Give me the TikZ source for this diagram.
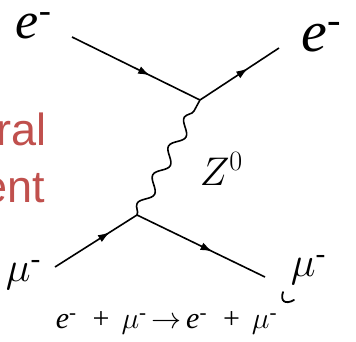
\RequirePackage{fix-cm}
\documentclass[tikz,border=0pt]{standalone}
\usepackage{amsmath}
\usepackage{fontspec}
\newfontfamily\slidefont{Liberation Sans}
\newfontfamily\labelfont{Liberation Serif}
\newcommand{\chg}{\raisebox{0.3em}{\scalebox{0.7}{-}}}
\usetikzlibrary{arrows.meta,decorations.markings,decorations.pathmorphing}
\definecolor{slidered}{RGB}{192,80,77}

\begin{document}
\begin{tikzpicture}[x=1pt, y=-1pt,
  fermion/.style={postaction={decorate}, decoration={markings,
      mark=at position #1 with {\arrow{Latex[length=12pt,width=8pt]}}}},
  fermion/.default=0.6,
  boson/.style={decorate, decoration={snake, segment length=32.7pt, amplitude=5.5pt}},
  every path/.style={line width=1.6pt},
  lbl/.style={inner sep=0pt, anchor=base west}]
  \useasboundingbox (0,0) rectangle (356,341);

  % vertices and free ends
  \coordinate (vtop) at (200,100);
  \coordinate (vbot) at (137,215);
  \coordinate (ein)  at (72,37);
  \coordinate (eout) at (279,48);
  \coordinate (muin) at (55,267);
  \coordinate (muout) at (265,277);

  % labels
  \node[lbl, font=\labelfont\itshape\fontsize{52}{52}\selectfont] (elabin)  at (15,38)  {e\chg};
  \node[lbl, font=\labelfont\itshape\fontsize{58}{58}\selectfont] (elabout) at (301,51) {e\chg};
  \node[lbl, font=\labelfont\fontsize{42}{42}\selectfont] (mulabin)  at (5,281)   {$\mu$\chg};
  \node[lbl, font=\labelfont\fontsize{42}{42}\selectfont] (mulabout) at (290,276) {$\mu$\chg};
  \node[lbl, font=\fontsize{40}{40}\selectfont] (zlab) at (199,185) {$Z^0$};
  \node[inner sep=0pt, anchor=base west, font=\labelfont\fontsize{30}{30}\selectfont] (eqn) at (55,328)
    {\textit{e}\chg\hspace{0.55em}+\hspace{0.4em}$\mu$\chg$\,\rightarrow\,$\textit{e}\chg\hspace{0.55em}+\hspace{0.4em}$\mu$\chg};

  % cut-off slide title
  \node[inner sep=0pt, anchor=base east, text=slidered, font=\slidefont\fontsize{45}{45}\selectfont] (ttl1) at (47,145) {ral};
  \node[inner sep=0pt, anchor=base east, text=slidered, font=\slidefont\fontsize{45}{45}\selectfont] (ttl2) at (46,202) {ent};

  % lines
  \draw[fermion=0.61] (ein) -- (vtop);
  \draw[fermion=0.61] (vtop) -- (eout);
  \draw[fermion=0.67] (muin) -- (vbot);
  \draw[fermion=0.59] (vbot) -- (muout);
  \draw[boson] (vbot) -- (vtop);

  % stray stroke
  \draw[line width=1.8pt, line cap=round] (283,292) .. controls (280,301) and (285,305) .. (294,300);
\end{tikzpicture}
\end{document}
